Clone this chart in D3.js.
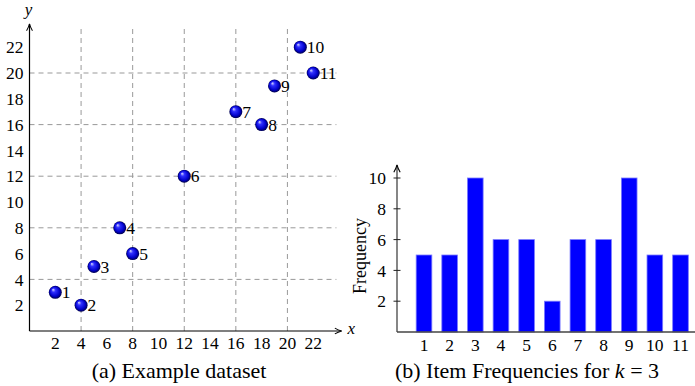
<!DOCTYPE html>
<html>
<head>
<meta charset="utf-8">
<script src="https://cdn.jsdelivr.net/npm/d3@7"></script>
<style>
  body { margin: 0; background: #fff; }
</style>
</head>
<body>
<div id="chart"></div>
<script>
// (a) example dataset
const pointIds = [1, 2, 3, 4, 5, 6, 7, 8, 9, 10, 11];
const pointX = [2, 4, 5, 7, 8, 12, 16, 18, 19, 21, 22];
const pointY = [3, 2, 5, 8, 6, 12, 17, 16, 19, 22, 20];
const scatterTicks = [2, 4, 6, 8, 10, 12, 14, 16, 18, 20, 22];
const gridTicks = [4, 8, 12, 16, 20];

// (b) item frequencies
const items = ['1', '2', '3', '4', '5', '6', '7', '8', '9', '10', '11'];
const frequencies = [5, 5, 10, 6, 6, 2, 6, 6, 10, 5, 5];
const freqTicks = [2, 4, 6, 8, 10];

const width = 695, height = 386;
const serif = "'Liberation Serif', 'Times New Roman', Times, 'DejaVu Serif', serif";

const svg = d3.select('#chart').append('svg')
  .attr('width', width)
  .attr('height', height)
  .attr('font-family', serif)
  .style('font-family', serif);

const defs = svg.append('defs');
const grad = defs.append('radialGradient')
  .attr('id', 'ball')
  .attr('cx', '50%').attr('cy', '50%').attr('r', '50%')
  .attr('fx', '32%').attr('fy', '28%');
grad.append('stop').attr('offset', '0%').attr('stop-color', '#e0e0ff');
grad.append('stop').attr('offset', '30%').attr('stop-color', '#3030ff');
grad.append('stop').attr('offset', '75%').attr('stop-color', '#0000c8');
grad.append('stop').attr('offset', '100%').attr('stop-color', '#000048');

defs.append('marker')
  .attr('id', 'arrowK')
  .attr('viewBox', '0 0 10 10')
  .attr('refX', 9).attr('refY', 5)
  .attr('markerWidth', 7).attr('markerHeight', 7)
  .attr('orient', 'auto')
  .append('path')
  .attr('d', 'M1,1.5 Q5,4 9,5 Q5,6 1,8.5')
  .attr('fill', 'none')
  .attr('stroke', '#000')
  .attr('stroke-width', 1.2);

// ---------- left: scatter ----------
const x = d3.scaleLinear().domain([0, 24]).range([29.5, 339]);
const y = d3.scaleLinear().domain([0, 24]).range([331, 21.4]);

const left = svg.append('g');

// dashed grid
left.selectAll('.vgrid')
  .data(gridTicks)
  .enter().append('line')
  .attr('x1', d => x(d)).attr('x2', d => x(d))
  .attr('y1', y(0)).attr('y2', y(23.6))
  .attr('stroke', '#999').attr('stroke-dasharray', '5,4');

left.selectAll('.hgrid')
  .data(gridTicks)
  .enter().append('line')
  .attr('x1', x(0)).attr('x2', x(23.8))
  .attr('y1', d => y(d)).attr('y2', d => y(d))
  .attr('stroke', '#999').attr('stroke-dasharray', '5,4');

// axes with arrows
left.append('line')
  .attr('x1', x(0)).attr('y1', y(0))
  .attr('x2', x(24.2)).attr('y2', y(0))
  .attr('stroke', '#000').attr('stroke-width', 1.2)
  .attr('marker-end', 'url(#arrowK)');
left.append('line')
  .attr('x1', x(0)).attr('y1', y(0))
  .attr('x2', x(0)).attr('y2', y(23.8))
  .attr('stroke', '#000').attr('stroke-width', 1.2)
  .attr('marker-end', 'url(#arrowK)');

left.selectAll('.xt')
  .data(scatterTicks)
  .enter().append('text')
  .attr('x', d => x(d)).attr('y', y(0) + 18)
  .attr('text-anchor', 'middle')
  .attr('font-size', 17.5)
  .text(d => d);

left.selectAll('.yt')
  .data(scatterTicks)
  .enter().append('text')
  .attr('x', x(0) - 6).attr('y', d => y(d))
  .attr('dy', '0.35em')
  .attr('text-anchor', 'end')
  .attr('font-size', 17.5)
  .text(d => d);

left.append('text')
  .attr('x', x(24.2) + 6).attr('y', y(0) + 3)
  .attr('font-size', 17).attr('font-style', 'italic')
  .text('x');
left.append('text')
  .attr('x', x(0) - 1).attr('y', 15)
  .attr('text-anchor', 'middle')
  .attr('font-size', 17).attr('font-style', 'italic')
  .text('y');

const pts = pointIds.map((id, i) => ({id, x: pointX[i], y: pointY[i]}));

left.selectAll('.ball')
  .data(pts)
  .enter().append('circle')
  .attr('cx', d => x(d.x)).attr('cy', d => y(d.y))
  .attr('r', 6.5)
  .attr('fill', 'url(#ball)');

left.selectAll('.lbl')
  .data(pts)
  .enter().append('text')
  .attr('x', d => x(d.x) + 6.5).attr('y', d => y(d.y))
  .attr('dy', '0.35em')
  .attr('font-size', 17.5)
  .text(d => d.id);

left.append('text')
  .attr('x', 179).attr('y', 378)
  .attr('text-anchor', 'middle')
  .attr('font-size', 22)
  .text('(a) Example dataset');

// ---------- right: bars ----------
const bx = d3.scalePoint().domain(items).range([424, 680.5]);
const by = d3.scaleLinear().domain([0, 10]).range([332, 178]);
const barW = bx.step() * 0.61;
const axisX = 397;

const right = svg.append('g');

right.selectAll('.bar')
  .data(items)
  .enter().append('rect')
  .attr('x', d => bx(d) - barW / 2)
  .attr('y', (d, i) => by(frequencies[i]))
  .attr('width', barW)
  .attr('height', (d, i) => by(0) - by(frequencies[i]))
  .attr('fill', '#0000ff')
  .attr('stroke', '#7a7aff')
  .attr('stroke-width', 0.8);

right.append('line')
  .attr('x1', axisX).attr('x2', 695)
  .attr('y1', by(0)).attr('y2', by(0))
  .attr('stroke', '#444').attr('stroke-width', 1.3);
right.append('line')
  .attr('x1', axisX).attr('x2', axisX)
  .attr('y1', by(0)).attr('y2', by(10.85))
  .attr('stroke', '#444').attr('stroke-width', 1.3)
  .attr('marker-end', 'url(#arrowK)');

right.selectAll('.tick')
  .data(freqTicks)
  .enter().append('line')
  .attr('x1', axisX - 3.5).attr('x2', axisX + 3.5)
  .attr('y1', d => by(d)).attr('y2', d => by(d))
  .attr('stroke', '#222');

right.selectAll('.yt')
  .data(freqTicks)
  .enter().append('text')
  .attr('x', axisX - 11).attr('y', d => by(d))
  .attr('dy', '0.35em')
  .attr('text-anchor', 'end')
  .attr('font-size', 17.5)
  .text(d => d);

right.selectAll('.xt')
  .data(items)
  .enter().append('text')
  .attr('x', d => bx(d)).attr('y', by(0) + 19)
  .attr('text-anchor', 'middle')
  .attr('font-size', 17.5)
  .text(d => d);

right.append('text')
  .attr('transform', 'translate(366,256) rotate(-90)')
  .attr('text-anchor', 'middle')
  .attr('font-size', 18)
  .text('Frequency');

const cap = right.append('text')
  .attr('x', 527).attr('y', 378)
  .attr('text-anchor', 'middle')
  .attr('font-size', 22);
cap.append('tspan').text('(b) Item Frequencies for ');
cap.append('tspan').attr('font-style', 'italic').text('k');
cap.append('tspan').text(' = 3');
</script>
</body>
</html>
